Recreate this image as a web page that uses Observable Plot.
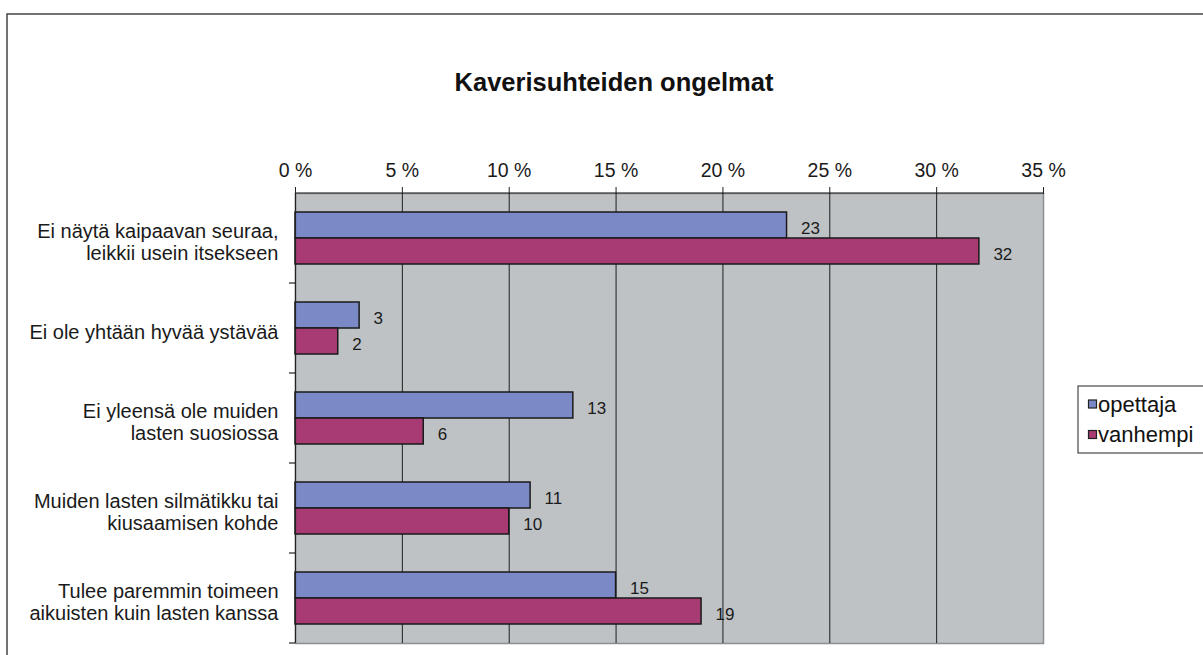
<!DOCTYPE html>
<html>
<head>
<meta charset="utf-8">
<script src="https://cdn.jsdelivr.net/npm/d3@7"></script>
<script src="https://cdn.jsdelivr.net/npm/@observablehq/plot@0.6"></script>
<style>
  html, body { margin: 0; padding: 0; background: #fff; }
  #chart svg { display: block; }
</style>
</head>
<body>
<div id="chart"></div>
<script>
const title = "Kaverisuhteiden ongelmat";
const categories = [
  "Ei näytä kaipaavan seuraa,\nleikkii usein itsekseen",
  "Ei ole yhtään hyvää ystävää",
  "Ei yleensä ole muiden\nlasten suosiossa",
  "Muiden lasten silmätikku tai\nkiusaamisen kohde",
  "Tulee paremmin toimeen\naikuisten kuin lasten kanssa"
];
const seriesNames = ["opettaja", "vanhempi"];
const opettaja = [23, 3, 13, 11, 15];
const vanhempi = [32, 2, 6, 10, 19];
const xTicks = [0, 5, 10, 15, 20, 25, 30, 35];
const colors = ["#7B8AC7", "#A83B73"];

const rowsOp = categories.map((c, i) => ({category: c, value: opettaja[i]}));
const rowsVa = categories.map((c, i) => ({category: c, value: vanhempi[i]}));

const font = "'Liberation Sans', Arial, sans-serif";

const chart = Plot.plot({
  width: 1203,
  height: 655,
  marginLeft: 295,
  marginRight: 160,
  marginTop: 193,
  marginBottom: 12,
  style: {fontFamily: font, background: "transparent", color: "#1a1a1a"},
  x: {domain: [0, 35], axis: null},
  y: {domain: categories, padding: 0, axis: null},
  marks: [
    Plot.frame({fill: "#BEC2C5", stroke: "#8C8F92", strokeWidth: 1.5}),
    Plot.gridX(xTicks.slice(1, -1), {stroke: "#1e1e1e", strokeOpacity: 1, strokeWidth: 1}),
    Plot.barX(rowsOp, {x: "value", y: "category", fill: colors[0], stroke: "#1a1a1a", strokeWidth: 1.5, insetTop: 19, insetBottom: 45}),
    Plot.barX(rowsVa, {x: "value", y: "category", fill: colors[1], stroke: "#1a1a1a", strokeWidth: 1.5, insetTop: 45, insetBottom: 19}),
    Plot.text(rowsOp, {x: "value", y: "category", text: d => String(d.value), dy: -10, dx: 14, textAnchor: "start", fontSize: 17, fill: "#1a1a1a"}),
    Plot.text(rowsVa, {x: "value", y: "category", text: d => String(d.value), dy: 16, dx: 14, textAnchor: "start", fontSize: 17, fill: "#1a1a1a"}),
    Plot.axisX({anchor: "top", label: null, ticks: xTicks, tickFormat: d => d + " %", tickSize: 7, tickPadding: 10, fontSize: 19.5, stroke: "#222"}),
    Plot.axisY({anchor: "left", label: null, tickSize: 0, tickPadding: 17, fontSize: 20, lineHeight: 1.1, dy: 3}),
    Plot.ruleX([0], {stroke: "#222", strokeWidth: 1.2})
  ]
});

const svg = d3.select(chart);
const xs = chart.scale("x");
const ys = chart.scale("y");
const x0 = xs.apply(0), x35 = xs.apply(35);
const bw = ys.bandwidth;
const yTop = ys.apply(categories[0]);

// top axis line
svg.append("line").attr("x1", x0).attr("x2", x35).attr("y1", yTop).attr("y2", yTop)
  .attr("stroke", "#222").attr("stroke-width", 1.2);
// category boundary ticks on the left axis
categories.forEach(c => {
  const y = ys.apply(c) + bw;
  svg.append("line").attr("x1", x0 - 6).attr("x2", x0).attr("y1", y).attr("y2", y)
    .attr("stroke", "#222").attr("stroke-width", 1.2);
});

// outer chart border (cut by the window on the right and bottom)
svg.append("rect").attr("x", 7).attr("y", 14).attr("width", 1300).attr("height", 700)
  .attr("fill", "none").attr("stroke", "#444").attr("stroke-width", 1.5);

// title
svg.append("text").attr("x", 614).attr("y", 91).attr("text-anchor", "middle")
  .attr("font-family", font).attr("font-weight", "bold").attr("font-size", 25.5).attr("fill", "#111")
  .text(title);

// legend
const lg = svg.append("g").attr("text-anchor", "start");
lg.append("rect").attr("x", 1078).attr("y", 386).attr("width", 140).attr("height", 67)
  .attr("fill", "#fff").attr("stroke", "#222").attr("stroke-width", 1);
seriesNames.forEach((s, i) => {
  const cy = 404 + i * 30.5;
  lg.append("rect").attr("x", 1088.5).attr("y", cy - 4).attr("width", 8).attr("height", 8)
    .attr("fill", colors[i]).attr("stroke", "#222").attr("stroke-width", 1.2);
  lg.append("text").attr("x", 1098).attr("y", cy).attr("dy", "0.35em").attr("text-anchor", "start")
    .attr("font-family", font).attr("font-size", 22).attr("fill", "#111").text(s);
});

document.getElementById("chart").appendChild(chart);
</script>
</body>
</html>
